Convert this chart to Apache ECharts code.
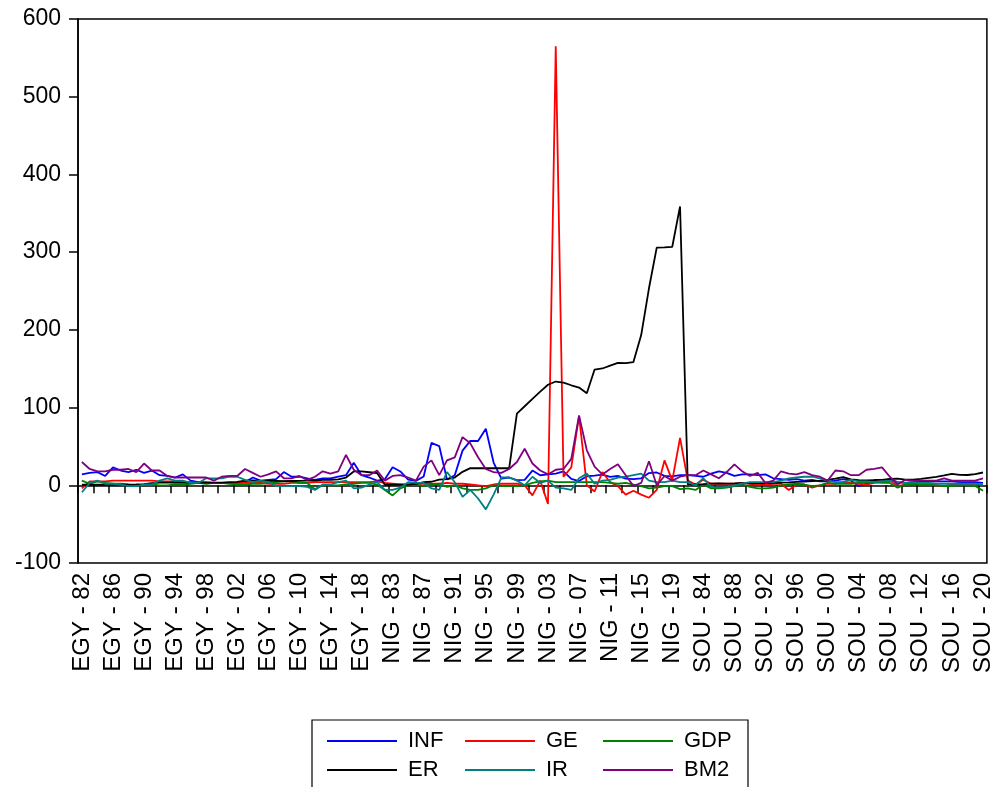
<!DOCTYPE html>
<html>
<head>
<meta charset="utf-8">
<script src="https://cdn.jsdelivr.net/npm/echarts@6/dist/echarts.min.js"></script>
<style>
html,body{margin:0;padding:0;background:#fff;}
#chart{width:995px;height:787px;}
</style>
</head>
<body>
<div id="chart"></div>
<script>
// ---- categories (country - year) ----
const countries = ['EGY', 'NIG', 'SOU'];
const years = [];
for (let y = 1982; y <= 2020; y++) years.push(y);

// ---- series values per country (1982..2020) ----
const INF_EGY = [14,16,17,12,23,19,17,20,16,19, 13,12,10,14,6,4,3,3,3,3, 3,4,10,6,7,8,17,11,11,9, 7,9,9,11,13,29,13,10,6];
const INF_NIG = [7.7,23.2,17.8,7.4,5.7,11.3,54.5,50.5,7.4,13.0, 44.6,57.2,57.0,72.8,29.3,8.5,10.0,6.6,6.9,18.9, 12.9,14.0,15.0,17.9,8.2,5.4,11.6,12.5,13.7,10.8, 12.2,8.5,8.0,9.0,15.7,16.5,12.1,11.4,13.2];
const INF_SOU = [13,12,11,15,18,16,12,14,14,13, 14,9,8,7,8,6,7,5,5,6, 8,6,-1,2,4,5,8,4,3,4, 5,5,5,5,5,4,4,4,3];

const GE_EGY = [-4,5,5,5,6,6,6,6,6,6, 5,5,5,4,4,4,4,3,3,3, 3,3,3,3,2,2,2,3,3,3, 4,4,4,4,4,4,4,4,5];
const GE_NIG = [3,2,1,1,2,2,2,2,3,2, 2,1,0,-1,1,2,2,2,0,-13, 6,-24,565,11,23,89,0,-8,17,4, -1,-12,-7,-12,-16,-6,32,6,61];
const GE_SOU = [6,1,7,2,2,2,2,3,2,1, 1,2,2,-6,1,1,-3,0,2,2, 4,3,2,1,3,4,6,-1,1,2, 1,1,0,-1,1,1,1,2,0];

const GDP_EGY = [6,2,5,3,2,2,1,-1,1,1, 0,0,1,1,2,3,2,3,3,2, 1,1,2,2,3,4,5,5,3,3, -5,0,0,0,1,2,3,3,1];
const GDP_NIG = [-6,-13,-4,0,1,-1,1,2,-2,0, -4,-6,-6,-4,0,-1,-1,-1,0,3, 5,6,4,4,4,4,4,4,4,3, 2,3,1,-1,-4,-3,-1,-1,-5];
const GDP_SOU = [-4,-6,1,-4,-4,-3,-1,1,-2,-4, -4,-3,0,1,2,1,-1,0,3,2, 2,2,3,4,4,3,3,-3,1,2, 1,1,0,-1,-1,0,0,-1,-7];

const ER_EGY = [0.7,0.7,0.7,0.7,0.7,0.7,0.7,1.1,1.6,2.7, 3.3,3.4,3.4,3.4,3.4,3.4,3.4,3.4,3.5,4.0, 4.5,5.9,6.2,5.8,5.7,5.6,5.4,5.5,5.6,5.9, 6.1,6.9,7.1,7.7,10.0,17.8,17.8,16.8,15.8];
const ER_NIG = [0.67,0.72,0.77,0.89,1.75,4.02,4.54,7.39,8.04,9.91, 17.3,22.05,21.9,21.9,21.9,21.9,21.9,92.3,101.7,111.2, 120.6,129.4,133.5,132.1,128.7,125.8,118.5,148.9,150.3,153.9, 157.5,157.3,158.6,193.3,253.5,305.8,306.1,306.9,358.8];
const ER_SOU = [1.09,1.11,1.44,2.19,2.27,2.04,2.27,2.62,2.59,2.76, 2.85,3.27,3.55,3.63,4.30,4.61,5.53,6.11,6.94,8.61, 10.54,7.56,6.46,6.36,6.77,7.05,8.26,8.47,7.32,7.26, 8.21,9.66,10.85,12.76,14.71,13.32,13.23,14.45,16.46];

const IR_EGY = [-9,3,6,2,2,1,-1,-1,1,1, 6,9,6,6,3,3,9,9,9,11, 11,7,4,6,4,-1,-1,-1,-1,-2, -6,1,1,4,6,-4,-3,1,4];
const IR_NIG = [-6,-6,-3,4,3,3,-4,-6,17,4, -15,-6,-17,-31,-12,10,10,6,0,11, 3,6,-3,-4,-6,9,15,2,6,7, 10,11,13,15,6,4,4,6,4];
const IR_SOU = [4,0,9,-2,-3,-2,0,2,4,4, 4,4,6,9,10,11,11,9,6,4, 4,7,5,5,4,5,6,4,3,4, 3,3,2,2,2,2,2,2,1];

const BM2_EGY = [30,21,18,18,20,20,21,17,28,19, 19,12,10,10,10,10,10,6,11,12, 12,21,16,11,14,18,9,9,12,7, 11,18,15,18,39,20,13,13,19];
const BM2_NIG = [6,12,13,10,6,24,32,13,32,36, 62,54,36,21,17,16,21,30,47,28, 19,14,20,21,34,90,45,24,14,21, 27,13,-1,3,31,0,12,6,11];
const BM2_SOU = [13,13,19,14,9,17,27,18,12,16, 3,6,18,15,14,17,13,11,6,19, 18,13,13,20,21,23,11,1,7,6, 6,6,6,9,6,6,6,6,9];

const seriesNames = ['INF', 'GE', 'GDP', 'ER', 'IR', 'BM2'];
const seriesColors = ['#0000FF', '#FF0000', '#008000', '#000000', '#008080', '#800080'];

const categories = [];
countries.forEach(c => years.forEach(y => categories.push(c + ' - ' + String(y).slice(2))));

const seriesData = {
  INF: INF_EGY.concat(INF_NIG, INF_SOU),
  GE: GE_EGY.concat(GE_NIG, GE_SOU),
  GDP: GDP_EGY.concat(GDP_NIG, GDP_SOU),
  ER: ER_EGY.concat(ER_NIG, ER_SOU),
  IR: IR_EGY.concat(IR_NIG, IR_SOU),
  BM2: BM2_EGY.concat(BM2_NIG, BM2_SOU)
};

const FONT = "'Liberation Sans', Arial, sans-serif";
const chart = echarts.init(document.getElementById('chart'), null, {renderer: 'canvas'});

chart.setOption({
  animation: false,
  backgroundColor: '#ffffff',
  grid: {
    left: 78, right: 8, top: 19, bottom: 224,
    show: true, borderColor: '#000', borderWidth: 1.5, backgroundColor: 'transparent'
  },
  legend: {
    data: seriesNames,
    left: 312, top: 720,
    width: 410,
    orient: 'horizontal',
    padding: [10, 14, 12, 15],
    borderColor: '#000', borderWidth: 1.2,
    icon: 'rect',
    itemWidth: 70, itemHeight: 2, itemGap: 7,
    textStyle: {fontFamily: FONT, fontSize: 22, color: '#000', width: 50, lineHeight: 22, padding: [0,0,0,6]},
    selectedMode: false
  },
  xAxis: {
    type: 'category',
    data: categories,
    boundaryGap: true,
    axisLine: {show: true, lineStyle: {color: '#000', width: 1.5}},
    axisTick: {show: true, interval: 1, length: 8, inside: false, lineStyle: {color: '#000', width: 1.5}},
    axisLabel: {show: true, interval: 3, rotate: 90, margin: 10, fontFamily: FONT, fontSize: 24, color: '#000'},
    splitLine: {show: false}
  },
  yAxis: {
    type: 'value',
    min: -100, max: 600, interval: 100,
    axisLine: {show: true, lineStyle: {color: '#000', width: 1.5}},
    axisTick: {show: true, length: 9, inside: false, lineStyle: {color: '#000', width: 1.5}},
    axisLabel: {margin: 17, fontFamily: FONT, fontSize: 23, color: '#000'},
    splitLine: {show: false}
  },
  series: seriesNames.map((n, k) => ({
    name: n,
    type: 'line',
    data: seriesData[n],
    symbol: 'none',
    showSymbol: false,
    smooth: false,
    color: seriesColors[k],
    lineStyle: {color: seriesColors[k], width: 1.8},
    z: 2 + k
  }))
});
</script>
</body>
</html>
